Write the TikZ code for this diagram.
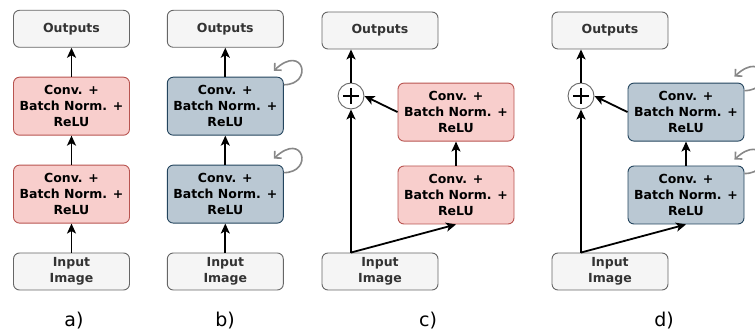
\documentclass[tikz,border=0pt]{standalone}
\usepackage{fontspec}
\setmainfont{DejaVu Sans}
\usetikzlibrary{arrows.meta,positioning}
\definecolor{PinkFill}{HTML}{F8CECC}
\definecolor{PinkLine}{HTML}{B85450}
\definecolor{BlueFill}{HTML}{BAC8D3}
\definecolor{BlueLine}{HTML}{23445D}
\definecolor{IOFill}{HTML}{F5F5F5}
\definecolor{IOLine}{HTML}{666666}
\definecolor{IOText}{HTML}{333333}
\definecolor{LoopGray}{HTML}{888888}

\begin{document}
\begin{tikzpicture}[x=1pt,y=1pt,
    box/.style={draw,rounded corners=6pt,minimum width=116pt,align=center,
      font=\fontsize{12.5}{16}\selectfont\bfseries,line width=0.9pt},
    io/.style={box,minimum height=37pt,fill=IOFill,draw=IOLine,text=IOText},
    convr/.style={box,minimum height=58pt,fill=PinkFill,draw=PinkLine},
    convb/.style={box,minimum height=58pt,fill=BlueFill,draw=BlueLine},
    sumc/.style={circle,draw=IOLine,fill=white,minimum size=26pt,inner sep=0pt,line width=0.9pt},
    arr/.style={-{Stealth[length=10pt,width=9pt,inset=2.5pt]},line width=1.8pt},
    rec/.style={-{Straight Barb[length=5pt,width=10pt]},line width=1.6pt,color=LoopGray},
    lbl/.style={font=\fontsize{19}{22}\selectfont}
  ]
    \useasboundingbox (0,0) rectangle (755,334);
    \clip (0,0) rectangle (755,334);
    % a) plain
    \node[io] (inA) at (71.5,62.5) {Input\\Image};
    \node[convr,above=29pt of inA] (c2A) {Conv. +\\Batch Norm. +\\ReLU};
    \node[convr,above=29pt of c2A] (c1A) {Conv. +\\Batch Norm. +\\ReLU};
    \node[io,above=29pt of c1A] (outA) {Outputs};
    \draw[arr] (inA)--(c2A);
    \draw[arr] (c2A)--(c1A);
    \draw[arr] (c1A)--(outA);
    \node[lbl] (labA) at (74,13) {a)};
    % b) recurrent
    \node[io] (inB) at (225.3,62.5) {Input\\Image};
    \node[convb,above=29pt of inB] (c2B) {Conv. +\\Batch Norm. +\\ReLU};
    \node[convb,above=29pt of c2B] (c1B) {Conv. +\\Batch Norm. +\\ReLU};
    \node[io,above=29pt of c1B] (outB) {Outputs};
    \draw[arr] (inB)--(c2B);
    \draw[arr] (c2B)--(c1B);
    \draw[arr] (c1B)--(outB);
    \draw[rec] ([yshift=-8pt]c1B.north east) .. controls +(30,0) and +(30,28) .. ([shift={(-10pt,6pt)}]c1B.north east);
    \draw[rec] ([yshift=-8pt]c2B.north east) .. controls +(30,0) and +(30,28) .. ([shift={(-10pt,6pt)}]c2B.north east);
    \node[lbl] (labB) at (225,13) {b)};
    % c) residual
    \node[io] (inC) at (380,62.5) {Input\\Image};
    \node[convr] (loC) at (456,139) {Conv. +\\Batch Norm. +\\ReLU};
    \node[convr,above=24pt of loC] (upC) {Conv. +\\Batch Norm. +\\ReLU};
    \node[io] (outC) at (380,303.5) {Outputs};
    \node[sumc] (sC) at (351,238) {};
    \draw[line width=1.4pt] ([xshift=-8pt]sC.center)--([xshift=8pt]sC.center)
      ([yshift=-8pt]sC.center)--([yshift=8pt]sC.center);
    \coordinate (jC) at (sC |- inC.north);
    \draw[arr] (jC)--(sC);
    \draw[arr] (jC)--(loC.south);
    \draw[arr] (loC)--(upC);
    \draw[arr] (upC.west)--(sC.east);
    \draw[arr] (sC)--(sC |- outC.south);
    \node[lbl] (labC) at (428,13) {c)};
    % d) recurrent residual
    \node[io] (inD) at (610,62.5) {Input\\Image};
    \node[convb] (loD) at (686,139) {Conv. +\\Batch Norm. +\\ReLU};
    \node[convb,above=24pt of loD] (upD) {Conv. +\\Batch Norm. +\\ReLU};
    \node[io] (outD) at (610,303.5) {Outputs};
    \node[sumc] (sD) at (581,238) {};
    \draw[line width=1.4pt] ([xshift=-8pt]sD.center)--([xshift=8pt]sD.center)
      ([yshift=-8pt]sD.center)--([yshift=8pt]sD.center);
    \coordinate (jD) at (sD |- inD.north);
    \draw[arr] (jD)--(sD);
    \draw[arr] (jD)--(loD.south);
    \draw[arr] (loD)--(upD);
    \draw[arr] (upD.west)--(sD.east);
    \draw[arr] (sD)--(sD |- outD.south);
    \draw[rec] ([yshift=-8pt]upD.north east) .. controls +(30,0) and +(30,28) .. ([shift={(-10pt,6pt)}]upD.north east);
    \draw[rec] ([yshift=-8pt]loD.north east) .. controls +(30,0) and +(30,28) .. ([shift={(-10pt,6pt)}]loD.north east);
    \node[lbl] (labD) at (664,13) {d)};
  \end{tikzpicture}
\end{document}
